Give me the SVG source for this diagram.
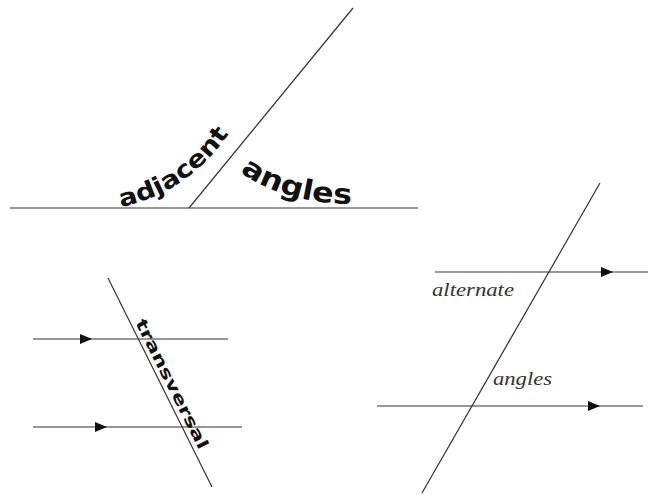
<svg xmlns="http://www.w3.org/2000/svg" width="648" height="495" viewBox="0 0 648 495">
<defs>
<style>
.ln{stroke:#333;stroke-width:1.2;fill:none}
.word{font-family:"DejaVu Sans",sans-serif;font-weight:bold;fill:#111}
.it{font-family:"Liberation Serif",serif;font-style:italic;fill:#333}
</style>
<marker id="arr" markerUnits="userSpaceOnUse" markerWidth="13" markerHeight="10" refX="12" refY="5" orient="auto">
<path d="M0,0 L12,5 L0,10 z" fill="#111"/>
</marker>
<path id="p-adj" d="M121,207 Q192,192 234,126"/>
<path id="p-ang" d="M240,172 Q285,205 362,204"/>
</defs>
<rect width="648" height="495" fill="#fff"/>
<g id="connectors">
<line class="ln" x1="10" y1="208" x2="418" y2="208"/>
<line class="ln" x1="189" y1="208" x2="353" y2="8"/>
<line class="ln" x1="108" y1="278" x2="212" y2="487"/>
<polyline class="ln" points="33,339 92,339 228,339" marker-mid="url(#arr)"/>
<polyline class="ln" points="33,427 107,427 242,427" marker-mid="url(#arr)"/>
<line class="ln" x1="600" y1="183" x2="422" y2="493"/>
<polyline class="ln" points="435,272 613,272 648,272" marker-mid="url(#arr)"/>
<polyline class="ln" points="377,406 600,406 643,406" marker-mid="url(#arr)"/>
</g>
<g id="adjacent">
<text class="word" font-size="24"><textPath href="#p-adj" textLength="134" lengthAdjust="spacingAndGlyphs">adjacent</textPath></text>
</g>
<g id="angles-top">
<text class="word" font-size="28"><textPath href="#p-ang" textLength="118" lengthAdjust="spacingAndGlyphs">angles</textPath></text>
</g>
<g id="transversal">
<text class="word" font-size="16" transform="translate(134,323) rotate(63.3)" x="0" y="-1" textLength="143" lengthAdjust="spacingAndGlyphs">transversal</text>
</g>
<g id="alternate">
<text class="it" font-size="18" x="432" y="296" textLength="82" lengthAdjust="spacingAndGlyphs">alternate</text>
</g>
<g id="angles-bottom">
<text class="it" font-size="18" x="493" y="385" textLength="59" lengthAdjust="spacingAndGlyphs">angles</text>
</g>
</svg>
